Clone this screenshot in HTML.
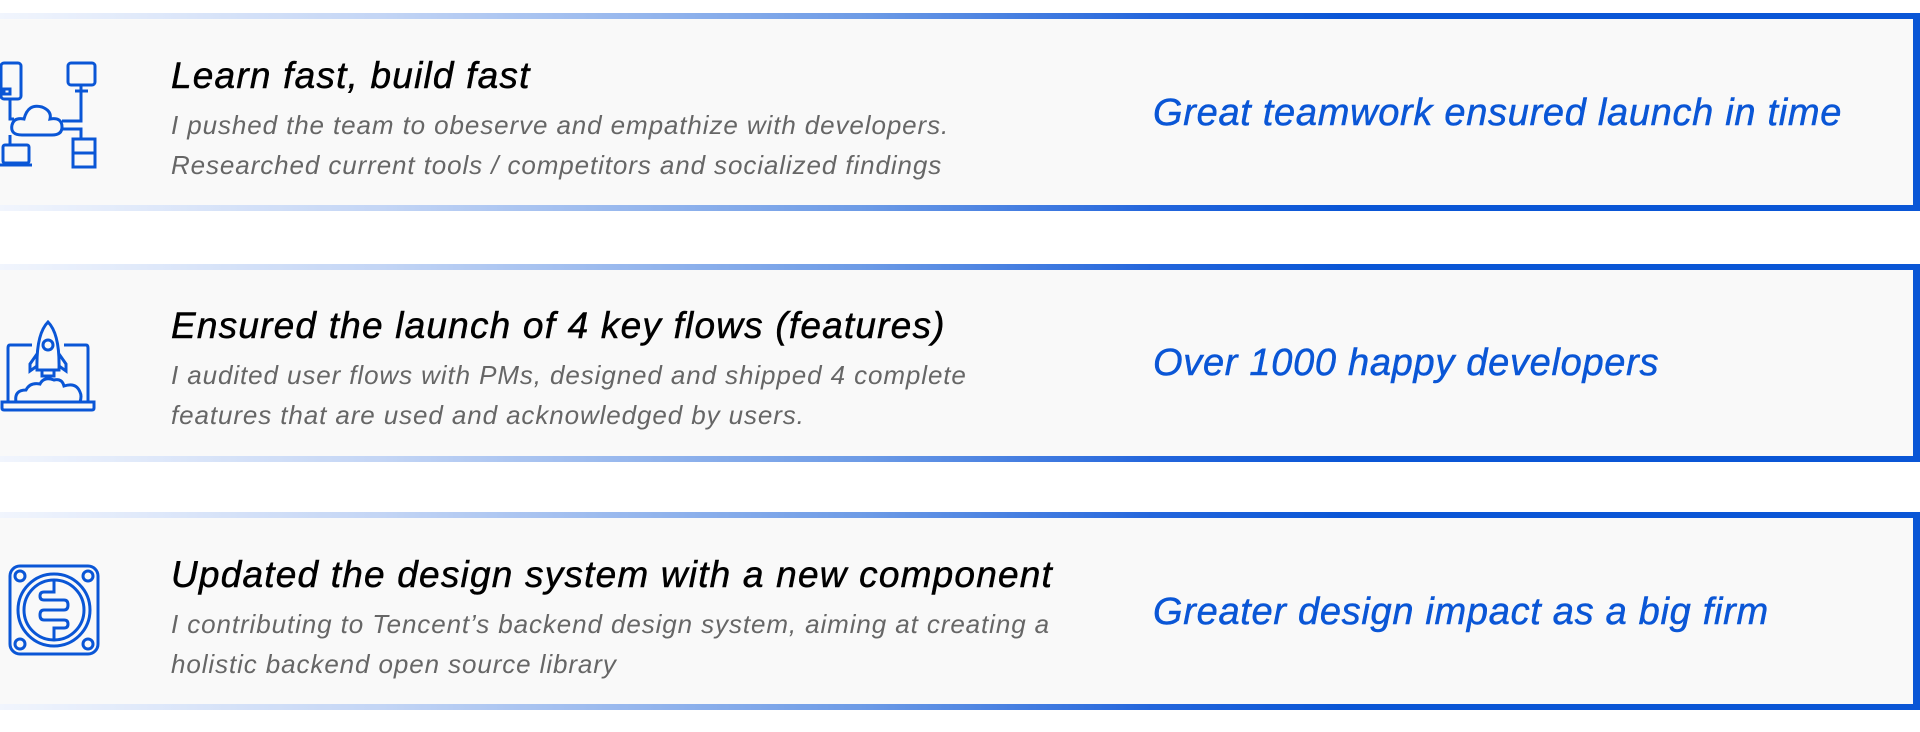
<!DOCTYPE html>
<html><head><meta charset="utf-8"><style>
*{margin:0;padding:0;box-sizing:border-box}
body{width:1920px;height:732px;background:#fff;position:relative;overflow:hidden;font-family:"Liberation Sans",sans-serif;font-style:italic}
.card{position:absolute;left:0;width:1920px;height:198px;background:#f9f9f9}
.card:before,.card:after{content:"";position:absolute;left:0;right:0;height:6px;background:linear-gradient(90deg,#f1f5fd 0%,#c3d5f5 20%,#6d9be6 45%,#2466dc 60%,#0a56d6 70%,#0a56d6 100%)}
.card:before{top:0}.card:after{bottom:0}
.rb{position:absolute;right:0;top:0;width:7px;height:100%;background:#0a56d6}
.t{position:absolute;left:171px;font-size:37px;color:#000;letter-spacing:1.2px;white-space:nowrap;-webkit-text-stroke:0.5px #000}
.s{position:absolute;left:171px;font-size:26px;color:#666;line-height:40px;letter-spacing:0.9px;white-space:nowrap}
.r{position:absolute;left:1153px;font-size:38px;color:#0a56d6;white-space:nowrap;letter-spacing:0.7px;-webkit-text-stroke:0.5px #0a56d6}
svg{position:absolute}
</style></head><body>
<div class="card" style="top:13px"><div class="rb"></div>
<div class="t" style="top:42px">Learn fast, build fast</div>
<div class="s" style="top:92px">I pushed the team to obeserve and empathize with developers.<br>Researched current tools / competitors and socialized findings</div>
<div class="r" style="top:79px">Great teamwork ensured launch in time</div>
<svg style="left:0;top:46px" width="100" height="112" viewBox="0 0 100 112" fill="none" stroke="#0a56d6" stroke-width="3">
<rect x="1" y="4" width="20" height="36" rx="3"/><rect x="4" y="30" width="6" height="5"/>
<rect x="68" y="4" width="27" height="22" rx="3"/><line x1="81" y1="26" x2="81" y2="32"/><line x1="75" y1="32" x2="88" y2="32"/>
<path d="M22 76 Q10 76 12 66 Q14 58 24 60 Q28 44 42 48 Q52 52 50 60 Q62 58 62 68 Q62 76 52 76Z"/>
<path d="M10 40 V60 H14"/><path d="M81 32 V62 H62"/><path d="M10 76 V86"/><path d="M62 70 H81 V80"/>
<rect x="3" y="86" width="26" height="18" rx="2"/><line x1="0" y1="106" x2="32" y2="106"/>
<rect x="73" y="80" width="22" height="28"/><line x1="73" y1="94" x2="95" y2="94"/>
</svg>
</div>
<div class="card" style="top:264px"><div class="rb"></div>
<div class="t" style="top:41px">Ensured the launch of 4 key flows (features)</div>
<div class="s" style="top:91px">I audited user flows with PMs, designed and shipped 4 complete<br>features that are used and acknowledged by users.</div>
<div class="r" style="top:78px">Over 1000 happy developers</div>
<svg style="left:0;top:56px" width="100" height="94" viewBox="0 0 100 94" fill="none" stroke="#0a56d6" stroke-width="3">
<path d="M32 25 H10 Q8 25 8 28 V82"/><path d="M64 25 H86 Q88 25 88 28 V82"/>
<path d="M2 82 H94 V88 Q94 90 92 90 H4 Q2 90 2 88Z"/>
<path d="M48 2 Q36 14 37 50 H59 Q60 14 48 2Z"/><circle cx="48" cy="25" r="5"/>
<path d="M37 34 L30 44 V51 L37 46"/><path d="M59 34 L66 44 V51 L59 46"/><path d="M42 50 V56 H54 V50"/>
<path d="M16 82 Q14 70 26 70 Q30 62 40 64 Q44 56 54 60 Q62 58 64 66 Q76 62 80 72 Q82 76 80 82"/>
</svg>
</div>
<div class="card" style="top:512px"><div class="rb"></div>
<div class="t" style="top:42px">Updated the design system with a new component</div>
<div class="s" style="top:92px">I contributing to Tencent’s backend design system, aiming at creating a<br>holistic backend open source library</div>
<div class="r" style="top:79px">Greater design impact as a big firm</div>
<svg style="left:8px;top:52px" width="92" height="92" viewBox="0 0 92 92" fill="none" stroke="#0a56d6" stroke-width="3">
<rect x="2" y="2" width="88" height="88" rx="10"/>
<circle cx="12" cy="12" r="5"/><circle cx="80" cy="12" r="5"/><circle cx="12" cy="80" r="5"/><circle cx="80" cy="80" r="5"/>
<circle cx="46" cy="46" r="36"/><circle cx="46" cy="46" r="30"/>
<path d="M46 16 V28 H36 Q32 28 32 32 Q32 36 36 36 H56 Q60 36 60 41 Q60 46 56 46 H36 Q32 46 32 51 Q32 56 36 56 H56 Q60 56 60 60 Q60 64 56 64 H46 V76"/>
</svg>
</div>
</body></html>
